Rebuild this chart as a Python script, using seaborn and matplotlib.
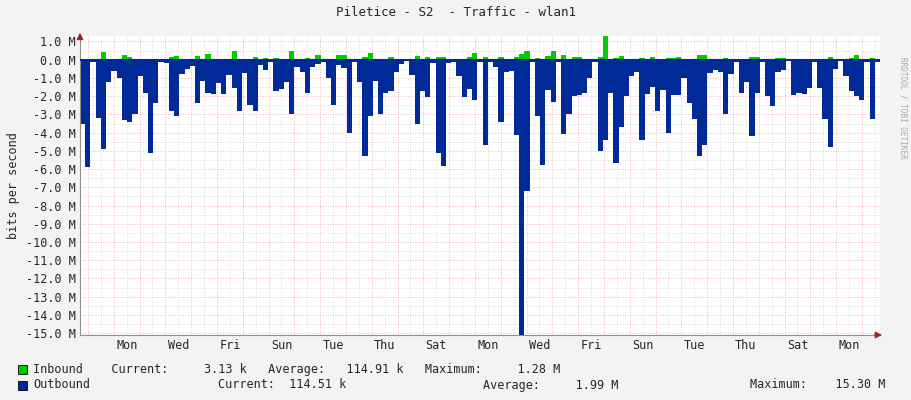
import numpy as np
import pandas as pd
import matplotlib
matplotlib.use("Agg")
import matplotlib.pyplot as plt
import seaborn as sns

outbound = [3.5,5.9,0.1,3.2,4.9,1.2,0.6,1.0,3.3,3.4,3.0,0.9,1.8,5.1,2.4,0.15,0.2,2.8,3.1,0.8,
            0.5,0.35,2.4,1.15,1.8,1.9,1.3,1.9,0.85,1.55,2.8,0.75,2.5,2.8,0.3,0.55,0.1,1.7,1.6,1.25,
            3.0,0.4,0.7,1.8,0.4,0.25,0.15,1.0,2.5,0.3,
            0.45,4.0,0.1,1.25,5.3,3.1,1.15,3.0,1.85,1.7,0.65,0.25,0.05,0.85,3.55,1.7,2.05,0.2,5.1,5.85,
            0.2,0.1,0.9,2.05,1.6,2.2,0.15,4.7,0.1,0.4,3.4,0.7,0.6,4.15,15.3,7.2,0.15,3.1,5.8,1.65,
            2.3,0.1,4.1,3.0,2.0,1.95,1.8,1.0,0.1,5.0,4.4,
            1.8,5.65,3.7,2.0,0.9,0.65,4.4,1.9,1.5,2.8,1.65,4.0,1.95,1.95,1.0,2.35,3.25,5.3,4.7,0.75,
            0.55,0.65,3.0,0.8,0.15,1.8,1.2,4.2,1.8,0.1,2.0,2.55,0.65,0.55,0.05,1.95,1.85,1.9,1.55,0.1,
            1.55,3.25,4.8,0.5,0.05,0.9,1.7,2.0,2.2,0.1,3.25,0.15]
inbound = [.05,.05,.05,.05,.40,.05,.05,.05,.27,.16,
           .05,.05,.05,.05,.05,.05,.05,.16,.20,.05,
           .05,.05,.20,.05,.33,.05,.05,.05,.05,.50,
           .05,.05,.05,.16,.05,.10,.05,.10,.05,.05,
           .45,.05,.05,.12,.05,.27,.05,.05,.05,.27,
           .27,.05,.05,.05,.16,.35,.05,.05,.05,.13,
           .05,.05,.05,.05,.20,.05,.16,.05,.13,.13,
           .05,.05,.05,.05,.13,.35,.05,.13,.05,.05,
           .16,.05,.05,.13,.30,.50,.05,.08,.05,.20,
           .50,.05,.27,.05,.16,.16,.05,.05,.05,.16,
           1.28,.05,.10,.22,.05,.05,.05,.10,.05,.16,
           .05,.05,.08,.08,.16,.05,.05,.05,.28,.28,
           .05,.05,.05,.08,.05,.05,.05,.05,.16,.13,
           .05,.05,.05,.10,.10,.05,.06,.06,.05,.05,
           .05,.05,.05,.13,.05,.05,.05,.08,.27,.05,
           .05,.10,.05]
day_labels = ["Mon","Wed","Fri","Sun","Tue","Thu","Sat","Mon","Wed","Fri","Sun","Tue","Thu","Sat","Mon"]
y_ticks = list(range(1, -16, -1))

XMIN, XMAX = -0.31, 30.7
n = len(outbound)
w = (XMAX - XMIN) / n
t = XMIN + (np.arange(n) + 0.5) * w
df = pd.DataFrame({"t": t, "inb": inbound, "out": [-v for v in outbound]})

sns.set_style("white")
plt.rcParams['font.family'] = ['DejaVu Sans Mono']
fig = plt.figure(figsize=(9.11, 4.0), dpi=100, facecolor="#F3F3F3")
ax = fig.add_axes([80/911, 65/400, 800/911, 299/400])
ax.set_facecolor("white")

# grid
for h in np.arange(-15, 1.5, 0.5):
    major = float(h).is_integer()
    ax.axhline(h, color="#F0A0A0" if major else "#D0D0D0", lw=0.6, ls=(0, (1, 2)), zorder=0)
for d in np.arange(0, 31, 0.5):
    major = float(d).is_integer()
    ax.axvline(d, color="#F0A0A0" if major else "#D0D0D0", lw=0.6, ls=(0, (1, 2)), zorder=0)

sns.barplot(data=df, x="t", y="inb", native_scale=True, width=1.0, color="#00CC00",
            saturation=1, linewidth=0, errorbar=None, ax=ax, zorder=2)
sns.barplot(data=df, x="t", y="out", native_scale=True, width=1.0, color="#002A97",
            saturation=1, linewidth=0, errorbar=None, ax=ax, zorder=2)
ax.axhline(0, color="#002A97", lw=1.5, zorder=3)

ax.set_xlim(XMIN, XMAX)
ax.set_ylim(-15.1, 1.3)
ax.set_yticks(y_ticks)
ax.set_yticklabels([f"{v:.1f} M" for v in y_ticks], fontsize=8.5)
ax.set_xticks([1.5 + 2*i for i in range(len(day_labels))])
ax.set_xticklabels(day_labels, fontsize=8.5)
ax.tick_params(length=0, pad=3)
ax.set_xlabel("")
ax.set_ylabel("bits per second", fontsize=8.5)
for s in ["top", "right"]:
    ax.spines[s].set_visible(False)
for s in ["left", "bottom"]:
    ax.spines[s].set_color("#909090")
    ax.spines[s].set_linewidth(0.8)
ax.annotate("", xy=(1.006, 0), xycoords="axes fraction", xytext=(0.99, 0),
            arrowprops=dict(arrowstyle="-|>", color="#A02020", lw=0.8), annotation_clip=False)
ax.annotate("", xy=(0, 1.02), xycoords="axes fraction", xytext=(0, 0.99),
            arrowprops=dict(arrowstyle="-|>", color="#A02020", lw=0.8), annotation_clip=False)

fig.text(0.5, 1 - 13/400, "Piletice - S2  - Traffic - wlan1", ha="center", va="center", fontsize=9)
fig.text(903/911, 0.73, "RRDTOOL / TOBI OETIKER", rotation=270, ha="center", va="center",
         fontsize=5.5, color="#AAAAAA")

fig.patches.append(plt.Rectangle((18/911, 1-374/400), 9/911, 9/400, transform=fig.transFigure,
                                 facecolor="#00CC00", edgecolor="black", lw=0.6))
fig.patches.append(plt.Rectangle((18/911, 1-390/400), 9/911, 9/400, transform=fig.transFigure,
                                 facecolor="#002A97", edgecolor="black", lw=0.6))
fs = 8.5
fig.text(33/911, 1-369/400, "Inbound    Current:     3.13 k   Average:   114.91 k   Maximum:     1.28 M",
         va="center", fontsize=fs)
fig.text(33/911, 1-385/400, "Outbound", va="center", fontsize=fs)
fig.text(218/911, 1-385/400, "Current:  114.51 k", va="center", fontsize=fs)
fig.text(483/911, 1-385/400, "Average:     1.99 M", va="center", fontsize=fs)
fig.text(750/911, 1-385/400, "Maximum:    15.30 M", va="center", fontsize=fs)

fig.savefig("out.png", dpi=100, facecolor=fig.get_facecolor())
